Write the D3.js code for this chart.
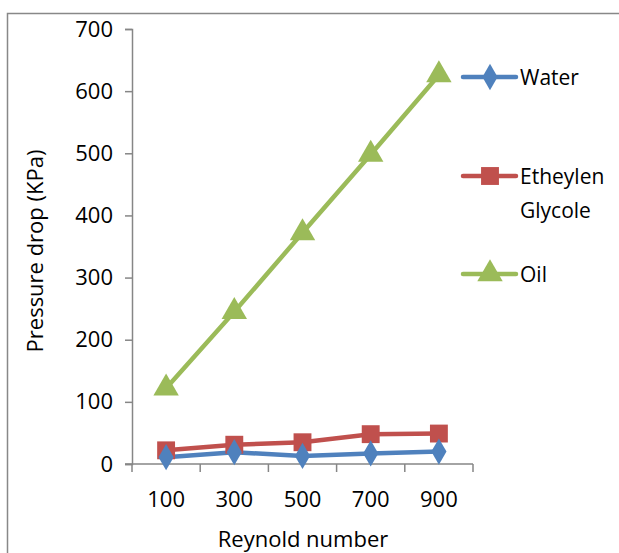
<!DOCTYPE html>
<html><head><meta charset="utf-8">
<script src="https://cdn.jsdelivr.net/npm/d3@7"></script>
<style>body{margin:0;background:#fff}svg{display:block}text{font-family:"Open Sans",sans-serif;fill:#000}</style>
</head><body>
<svg id="c" width="619" height="553"></svg>
<script>
const categories = ["100","300","500","700","900"];
const water = [11, 19, 13, 17, 20];
const glycol = [22, 31, 35, 48, 49];
const oil = [122, 245, 372, 498, 626];
const yTicks = [0,100,200,300,400,500,600,700];
const seriesNames = ["Water","Etheylen Glycole","Oil"];
const colors = ["#4F81BD","#C0504D","#9BBB59"];

const svg = d3.select("#c");
svg.append("path").attr("d","M7.5,553 L7.5,13.5 L619,13.5").attr("fill","none").attr("stroke","#888").attr("stroke-width",1.5);

const x = d3.scaleBand().domain(categories).range([132,473]);
const y = d3.scaleLinear().domain([0,700]).range([464,29]);

const gy = svg.append("g").attr("transform","translate(132,0)")
  .call(d3.axisLeft(y).tickValues(yTicks).tickSize(7).tickPadding(12));
gy.select(".domain").attr("stroke","#868686").attr("stroke-width",1.5);
gy.selectAll(".tick line").attr("stroke","#868686").attr("stroke-width",1.5);
gy.selectAll("text").style("font-size","22px").attr("fill","#000");

const xt = d3.scaleLinear().domain([0,5]).range([132,473]);
const gx = svg.append("g").attr("transform","translate(0,464)");
gx.append("line").attr("x1",125).attr("x2",473).attr("stroke","#868686").attr("stroke-width",1.5);
gx.selectAll("line.t").data(d3.range(6)).join("line").attr("class","t")
  .attr("x1",d=>xt(d)).attr("x2",d=>xt(d)).attr("y1",0).attr("y2",8)
  .attr("stroke","#868686").attr("stroke-width",1.5);
gx.selectAll("text").data(categories).join("text")
  .attr("x",d=>x(d)+x.bandwidth()/2).attr("y",43).attr("text-anchor","middle")
  .style("font-size","22px").text(d=>d);

svg.append("text").attr("transform","translate(43,251) rotate(-90)").attr("text-anchor","middle")
  .style("font-size","22px").text("Pressure drop (KPa)");
svg.append("text").attr("x",303).attr("y",547).attr("text-anchor","middle")
  .style("font-size","22px").text("Reynold number");

const data = [water, glycol, oil];
const symbols = [d3.symbolDiamond, d3.symbolSquare, d3.symbolTriangle];
const sizes = [200, 320, 280];
const cx = (i)=>x(categories[i])+x.bandwidth()/2;
const line = d3.line().x((d,i)=>cx(i)).y(d=>y(d));
[2,1,0].forEach(s=>{
  svg.append("path").datum(data[s]).attr("d",line).attr("fill","none")
    .attr("stroke",colors[s]).attr("stroke-width",4.5).attr("stroke-linejoin","round");
});
[2,1,0].forEach(s=>{
  svg.selectAll(null).data(data[s]).join("path")
    .attr("transform",(d,i)=>`translate(${cx(i)},${y(d)})`)
    .attr("d",d3.symbol().type(symbols[s]).size(sizes[s])).attr("fill",colors[s]);
});

const ly = [77, 176, 274];
seriesNames.forEach((n,s)=>{
  const g = svg.append("g").attr("transform",`translate(0,${ly[s]})`);
  g.append("line").attr("x1",463).attr("x2",516).attr("stroke",colors[s]).attr("stroke-width",4.5).attr("stroke-linecap","round");
  g.append("path").attr("transform","translate(490,0)").attr("d",d3.symbol().type(symbols[s]).size(sizes[s])).attr("fill",colors[s]);
  const parts = n === "Etheylen Glycole" ? ["Etheylen","Glycole"] : [n];
  parts.forEach((p,k)=>{
    g.append("text").attr("x",520).attr("y",8+k*34).style("font-size","21px").text(p);
  });
});
</script>
</body></html>
